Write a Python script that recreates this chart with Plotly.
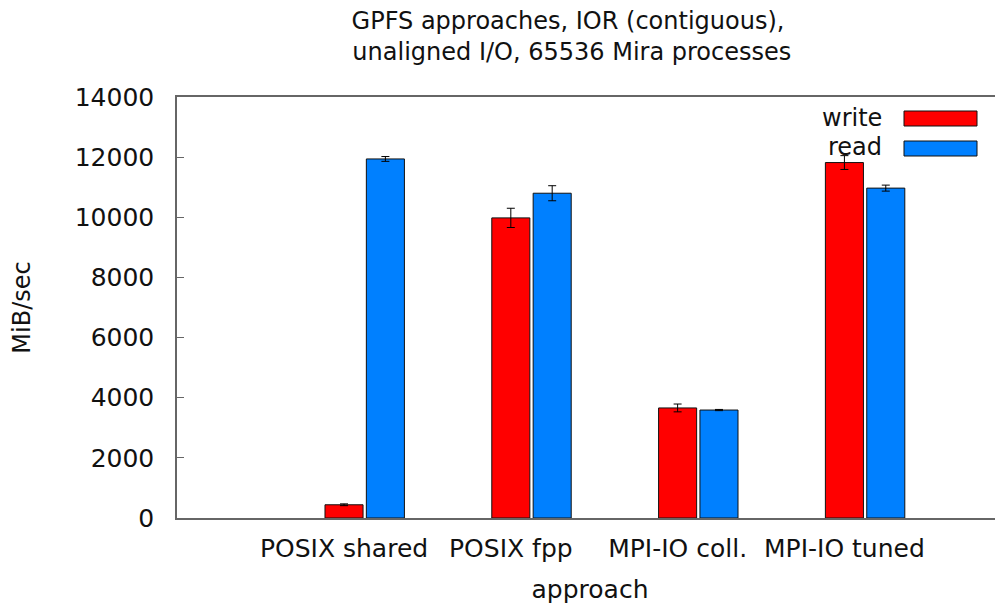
import plotly.graph_objects as go

categories = ["POSIX shared", "POSIX fpp", "MPI-IO coll.", "MPI-IO tuned"]
write_vals = [440, 9980, 3660, 11820]
write_err = [30, 320, 130, 230]
read_vals = [11940, 10800, 3590, 10970]
read_err = [80, 250, 20, 100]
y_ticks = [0, 2000, 4000, 6000, 8000, 10000, 12000, 14000]

# the page body has an 8px margin; figure is sized to fit the window
OFF = 8
W, H = 1003 - OFF, 604 - OFF
L, R, T, B = 177 - OFF, 0, 97 - OFF, 604 - 518
pw, ph = W - L - R, H - T - B

def px(x):
    return (x - OFF - L) / pw

def py(y):
    return (H - B - (y - OFF)) / ph

idx = list(range(len(categories)))
font = "DejaVu Sans, Liberation Sans, sans-serif"

fig = go.Figure()
fig.add_trace(go.Bar(
    x=idx, y=write_vals, name="write",
    marker=dict(color="#ff0000", line=dict(color="#111111", width=1)),
    error_y=dict(type="data", array=write_err, color="#000000", thickness=1, width=4),
    showlegend=False,
))
fig.add_trace(go.Bar(
    x=idx, y=read_vals, name="read",
    marker=dict(color="#0080ff", line=dict(color="#111111", width=1)),
    error_y=dict(type="data", array=read_err, color="#000000", thickness=1, width=4),
    showlegend=False,
))

unit = 166.8
x0 = 364.7
xr = [(177 - x0) / unit, (1003 - x0) / unit]

fig.update_layout(
    width=W, height=H,
    margin=dict(l=L, r=R, t=T, b=B, autoexpand=False),
    paper_bgcolor="white", plot_bgcolor="white",
    barmode="group", bargap=0.504, bargroupgap=0.08,
    font=dict(family=font, color="#111111"),
    title=dict(
        text="GPFS approaches, IOR (contiguous),<br> unaligned I/O, 65536 Mira processes",
        x=560 / W, xanchor="center", xref="container",
        y=1 - 21 / H, yanchor="middle", yref="container",
        font=dict(size=24, family=font),
    ),
    xaxis=dict(
        range=xr, tickmode="array",
        tickvals=[i - 0.124 for i in idx], ticktext=categories,
        showgrid=False, zeroline=False, ticks="", automargin=False,
        showline=True, linecolor="#666666", linewidth=1.5, mirror=True,
        tickfont=dict(size=25, family=font), ticklabelstandoff=7,
        title=dict(text="approach", font=dict(size=25, family=font), standoff=21),
    ),
    yaxis=dict(
        range=[0, 14000], tickmode="array", tickvals=y_ticks,
        ticktext=[str(v) for v in y_ticks], automargin=False,
        showgrid=False, zeroline=False,
        ticks="inside", ticklen=7, tickcolor="#666666",
        showline=True, linecolor="#666666", linewidth=1.5, mirror=True,
        tickfont=dict(size=25, family=font), ticklabelstandoff=16,
        title=dict(text="MiB/sec", font=dict(size=24, family=font), standoff=38),
    ),
)

# legend drawn as keys in the top-right corner
legend_items = [("write", "#ff0000", 111, 126), ("read", "#0080ff", 141, 156)]
for name, color, ytop, ybot in legend_items:
    fig.add_shape(type="rect", xref="paper", yref="paper",
                  x0=px(904), x1=px(977), y0=py(ybot), y1=py(ytop),
                  fillcolor=color, line=dict(color="#111111", width=1))
    fig.add_annotation(xref="paper", yref="paper", x=px(884), y=py((ytop + ybot) / 2 - 1),
                       text=name, showarrow=False, xanchor="right", yanchor="middle",
                       font=dict(size=24, family=font, color="#111111"))

fig.write_html("out.html")
